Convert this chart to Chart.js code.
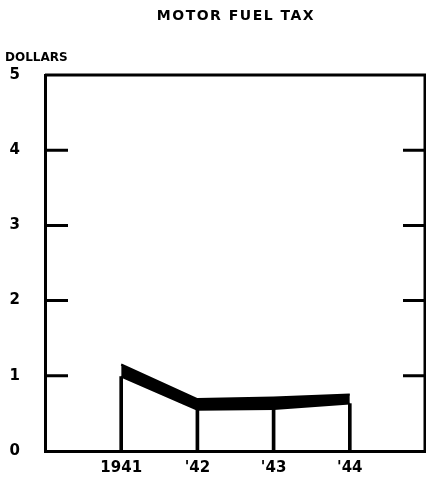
<!DOCTYPE html>
<html>
<head>
<meta charset="utf-8">
<script src="https://cdn.jsdelivr.net/npm/chart.js@4/dist/chart.umd.min.js"></script>
<style>
  html, body { margin: 0; padding: 0; background: #fff; }
  #wrap { width: 426px; height: 497px; }
</style>
</head>
<body>
<div id="wrap"><canvas id="c" width="426" height="497"></canvas></div>
<script>
const years = [1941, 1942, 1943, 1944];
const yearLabels = { 1941: "1941", 1942: "'42", 1943: "'43", 1944: "'44" };
const upperValues = [1.15, 0.69, 0.71, 0.75];
const lowerValues = [0.99, 0.55, 0.56, 0.63];
const yTicks = [0, 1, 2, 3, 4, 5];
const titleText = "MOTOR FUEL TAX";
const unitText = "DOLLARS";

const FONT = "'DejaVu Sans', sans-serif";

const framePlugin = {
  id: 'frame',
  afterDatasetsDraw(chart) {
    const { ctx, chartArea: a, scales } = chart;
    const y = scales.y;
    ctx.save();
    ctx.strokeStyle = '#000';
    ctx.lineWidth = 3;
    ctx.beginPath();
    ctx.moveTo(a.left, a.top);
    ctx.lineTo(a.right, a.top);
    ctx.moveTo(a.right - 1, a.top);
    ctx.lineTo(a.right - 1, a.bottom);
    ctx.stroke();
    yTicks.forEach(v => {
      if (v === 0 || v === 5) return;
      const py = y.getPixelForValue(v);
      ctx.beginPath();
      ctx.moveTo(a.left, py);
      ctx.lineTo(a.left + 23, py);
      ctx.moveTo(a.right - 23, py);
      ctx.lineTo(a.right, py);
      ctx.stroke();
    });
    ctx.restore();
  },
  afterDraw(chart) {
    const { ctx } = chart;
    ctx.save();
    ctx.fillStyle = '#000';
    ctx.textBaseline = 'middle';
    ctx.textAlign = 'center';
    ctx.font = "bold 14px " + FONT;
    if ('letterSpacing' in ctx) ctx.letterSpacing = '1.5px';
    ctx.fillText(titleText, 236, 16);
    ctx.textAlign = 'left';
    if ('letterSpacing' in ctx) ctx.letterSpacing = '0px';
    ctx.font = "bold 12px " + FONT;
    ctx.fillText(unitText, 5, 58);
    ctx.restore();
  }
};

new Chart(document.getElementById('c'), {
  data: {
    datasets: [
      {
        type: 'line',
        data: years.map((x, i) => ({ x, y: upperValues[i] })),
        borderColor: '#000',
        backgroundColor: '#000',
        borderWidth: 2,
        pointRadius: 0,
        tension: 0,
        fill: '+1',
        order: 1
      },
      {
        type: 'line',
        data: years.map((x, i) => ({ x, y: lowerValues[i] })),
        borderColor: '#000',
        backgroundColor: '#000',
        borderWidth: 2,
        pointRadius: 0,
        tension: 0,
        fill: false,
        order: 2
      },
      {
        type: 'bar',
        data: years.map((x, i) => ({ x, y: lowerValues[i] })),
        backgroundColor: '#000',
        barThickness: 3,
        grouped: false,
        order: 3
      }
    ]
  },
  options: {
    responsive: false,
    animation: false,
    devicePixelRatio: 1,
    layout: { padding: { top: 75, right: 0, left: 0, bottom: 0 } },
    plugins: { legend: { display: false }, tooltip: { enabled: false }, title: { display: false } },
    scales: {
      x: {
        type: 'linear',
        min: 1940,
        max: 1945,
        offset: false,
        afterBuildTicks(scale) { scale.ticks = years.map(v => ({ value: v })); },
        afterFit(scale) { scale.height = 46; },
        grid: { display: false, drawTicks: false, offset: false },
        border: { display: true, color: '#000', width: 3 },
        ticks: {
          padding: 8,
          color: '#000',
          font: { family: FONT, size: 15, weight: 'bold' },
          callback: v => yearLabels[v] || ''
        }
      },
      y: {
        type: 'linear',
        min: 0,
        max: 5,
        afterBuildTicks(scale) { scale.ticks = yTicks.map(v => ({ value: v })); },
        afterFit(scale) { scale.width = 45; },
        grid: { display: false, drawTicks: false },
        border: { display: true, color: '#000', width: 3 },
        ticks: {
          padding: 25,
          color: '#000',
          font: { family: FONT, size: 15, weight: 'bold' }
        }
      }
    }
  },
  plugins: [framePlugin]
});
</script>
</body>
</html>
